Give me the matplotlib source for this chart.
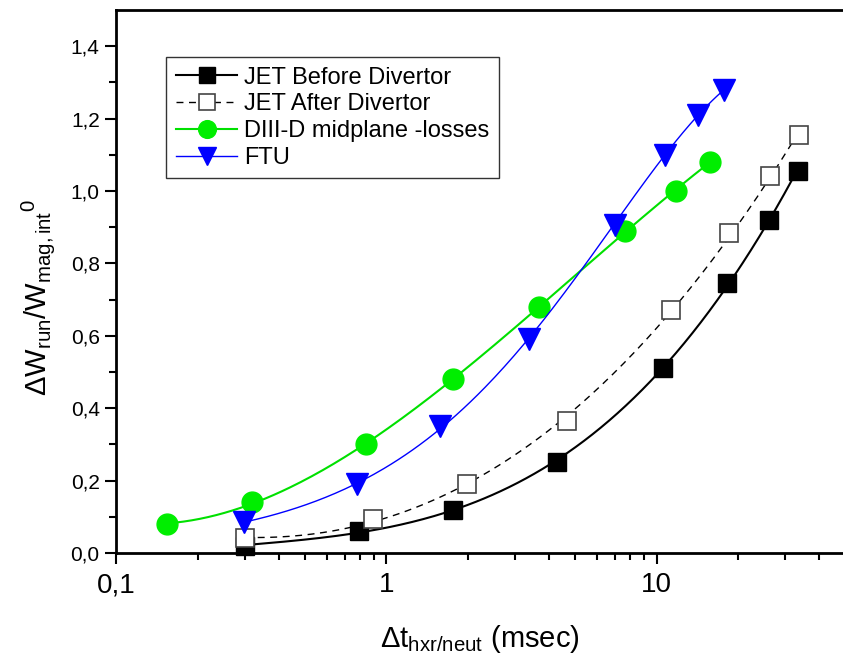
import numpy as np
import matplotlib
matplotlib.use("Agg")
import matplotlib.pyplot as plt
from matplotlib.ticker import FixedLocator, FuncFormatter, LogLocator, NullFormatter

plt.rcParams['font.family'] = ['Liberation Sans', 'DejaVu Sans']
plt.rcParams['mathtext.fontset'] = 'custom'
plt.rcParams['mathtext.rm'] = 'Liberation Sans'
plt.rcParams['mathtext.it'] = 'Liberation Sans'

# data
jet_before_x = [0.30, 0.79, 1.77, 4.27, 10.6, 18.2, 26.0, 33.4]
jet_before_y = [0.02, 0.06, 0.12, 0.25, 0.51, 0.745, 0.92, 1.055]

jet_after_x = [0.30, 0.89, 1.98, 4.67, 11.3, 18.6, 26.3, 33.7]
jet_after_y = [0.04, 0.095, 0.19, 0.365, 0.67, 0.885, 1.04, 1.155]

diiid_x = [0.154, 0.318, 0.84, 1.77, 3.68, 7.63, 11.76, 15.8]
diiid_y = [0.08, 0.14, 0.30, 0.48, 0.68, 0.89, 1.0, 1.08]

ftu_x = [0.296, 0.78, 1.58, 3.37, 7.0, 10.7, 14.2, 17.8]
ftu_y = [0.085, 0.19, 0.35, 0.59, 0.905, 1.10, 1.21, 1.28]

labels = ["JET Before Divertor", "JET After Divertor", "DIII-D midplane -losses", "FTU"]


def smooth(x, y, deg=3, logy=False):
    # smooth fit in log10(x) (optionally log10(y)), like the original's fitted curves
    lx = np.log10(x)
    yy = np.log10(y) if logy else y
    p = np.polyfit(lx, yy, deg)
    xs = np.linspace(lx.min(), lx.max(), 200)
    ys = np.polyval(p, xs)
    return 10 ** xs, (10 ** ys if logy else ys)


fig = plt.figure(figsize=(8.43, 6.63), dpi=100)
ax = fig.add_axes([0.138, 0.166, 0.862, 0.819])

series = [
    (jet_before_x, jet_before_y, 3, False, dict(color='black', ls='-', lw=1.5),
     dict(marker='s', ms=13, mfc='black', mec='black')),
    (jet_after_x, jet_after_y, 3, False, dict(color='black', ls=(0, (5, 4)), lw=1.0),
     dict(marker='s', ms=13, mfc='white', mec='#444444', mew=1.2)),
    (diiid_x, diiid_y, 3, False, dict(color='#00e000', ls='-', lw=1.5),
     dict(marker='o', ms=15, mfc='#00ee00', mec='#00ee00')),
    (ftu_x, ftu_y, 3, True, dict(color='blue', ls='-', lw=1.0),
     dict(marker='v', ms=16, mfc='blue', mec='blue')),
]

handles = []
for (x, y, deg, logy, lst, mst), lab in zip(series, labels):
    x = np.array(x)
    y = np.array(y)
    xs, ys = smooth(x, y, deg, logy)
    ax.plot(xs, ys, **lst)
    ax.plot(x, y, ls='none', clip_on=False, **mst)
    h, = ax.plot([], [], label=lab, **lst, **mst)
    handles.append(h)

ax.set_xscale('log')
ax.set_xlim(0.1, 49)
ax.set_ylim(0, 1.5)

ax.xaxis.set_major_locator(FixedLocator([0.1, 1, 10]))
ax.xaxis.set_major_formatter(FuncFormatter(lambda v, p: ('%g' % v).replace('.', ',')))
ax.xaxis.set_minor_locator(LogLocator(base=10, subs=np.arange(2, 10)))
ax.xaxis.set_minor_formatter(NullFormatter())

ax.yaxis.set_major_locator(FixedLocator(np.arange(0, 1.41, 0.2)))
ax.yaxis.set_minor_locator(FixedLocator(np.arange(0.1, 1.5, 0.2)))
ax.yaxis.set_major_formatter(FuncFormatter(lambda v, p: ('%.1f' % v).replace('.', ',')))

ax.tick_params(which='major', direction='out', length=8, width=1.5)
ax.tick_params(which='minor', direction='out', length=5, width=1.5)
ax.tick_params(axis='x', labelsize=20, pad=6)
ax.tick_params(axis='y', labelsize=15, pad=4)

for s in ['left', 'bottom', 'top']:
    ax.spines[s].set_linewidth(2)
ax.spines['right'].set_visible(False)

ax.set_xlabel(r'$\Delta$t$_{\mathrm{hxr/neut}}$ (msec)', fontsize=21, labelpad=18)
ax.set_ylabel(r'$\Delta$W$_{\mathrm{run}}$/W$_{\mathrm{mag,int}}$$^{\mathrm{0}}$', fontsize=21)
ax.yaxis.set_label_coords(-0.082, 0.47)

leg = ax.legend(handles=handles, loc='upper left', bbox_to_anchor=(0.069, 0.913),
                fontsize=17, frameon=True, fancybox=False, edgecolor='black',
                handlelength=2.6, borderaxespad=0, labelspacing=0.2,
                handletextpad=0.3, borderpad=0.4, markerscale=0.85)
leg.get_frame().set_linewidth(1.0)

fig.savefig('out.png', dpi=100)
